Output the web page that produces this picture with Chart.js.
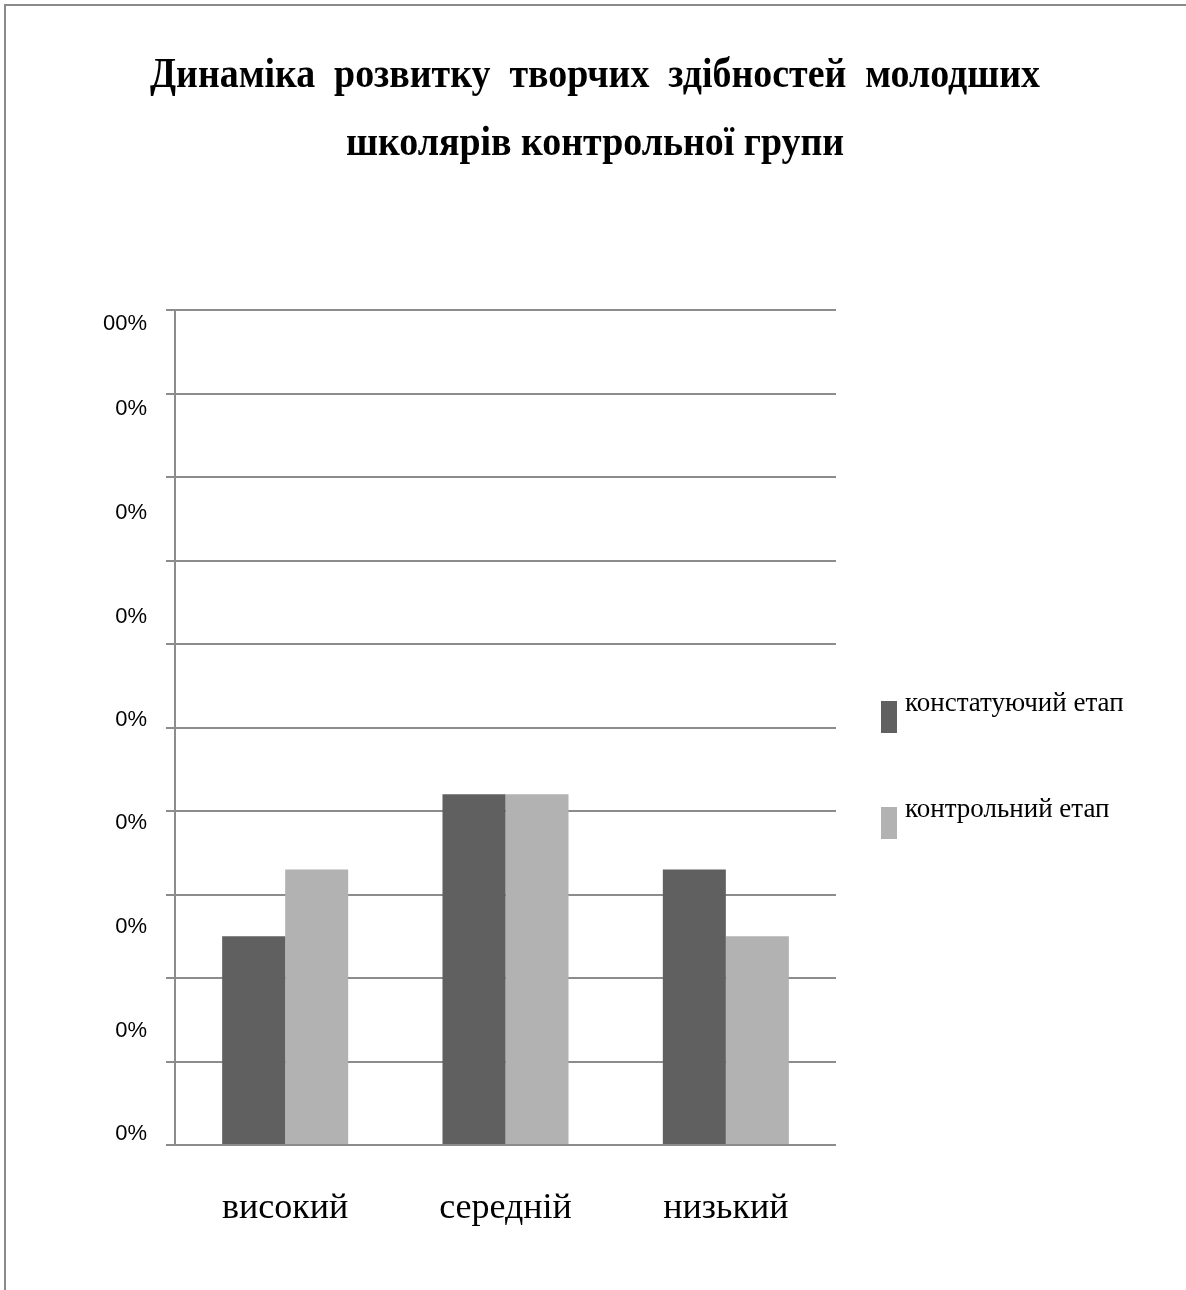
<!DOCTYPE html>
<html><head><meta charset="utf-8">
<script src="https://cdn.jsdelivr.net/npm/chart.js@4.4.1/dist/chart.umd.min.js"></script>
<style>
html,body{margin:0;padding:0;background:#fff;}
#wrap{position:relative;width:1186px;height:1290px;overflow:hidden;}
#frame{position:absolute;left:4px;top:4px;right:-10px;bottom:-10px;border-top:2px solid #8a8a8a;border-left:2px solid #8a8a8a;pointer-events:none;}
canvas{position:absolute;left:0;top:0;}
</style></head><body>
<div id="wrap"><canvas id="c" width="1186" height="1290"></canvas><div id="frame"></div></div>
<script>
const titleLines = ['Динаміка  розвитку  творчих  здібностей  молодших', 'школярів контрольної групи'];
const categories = ['високий', 'середній', 'низький'];
const seriesNames = ['констатуючий етап', 'контрольний етап'];
const constatValues = [25, 42, 33];
const controlValues = [33, 42, 25];
const gridTickValues = [0, 10, 20, 30, 40, 50, 60, 70, 80, 90, 100];
const yLabelValues = [1.3, 13.65, 26.1, 38.6, 50.9, 63.2, 75.7, 88.1, 98.3];
const yLabelTexts = ['0%', '0%', '0%', '0%', '0%', '0%', '0%', '0%', '00%'];
const seriesColors = ['#606060', '#b2b2b2'];

const GRID = '#8c8c8c';
const SERIF = '"Liberation Serif", "Times New Roman", serif';

const titlePlugin = {
  id: 'condensedTitle',
  afterDraw(chart) {
    const ctx = chart.ctx;
    ctx.save();
    ctx.font = 'bold 42px ' + SERIF;
    ctx.fillStyle = '#000';
    ctx.textAlign = 'center';
    ctx.textBaseline = 'alphabetic';
    const w0 = ctx.measureText(titleLines[0]).width;
    const sx = 890 / w0;
    const cx = 595;
    titleLines.forEach((line, i) => {
      ctx.save();
      ctx.translate(cx, 87 + i * 68);
      ctx.scale(sx, 1);
      ctx.fillText(line, 0, 0);
      ctx.restore();
    });
    ctx.restore();
  }
};

const legendPlugin = {
  id: 'sideLegend',
  afterDraw(chart) {
    const ctx = chart.ctx;
    ctx.save();
    chart.data.datasets.forEach((ds, i) => {
      const top = 701 + i * 106;
      ctx.fillStyle = ds.backgroundColor;
      ctx.fillRect(881, top, 16, 32);
      ctx.fillStyle = '#000';
      ctx.font = '27px ' + SERIF;
      ctx.textAlign = 'left';
      ctx.textBaseline = 'alphabetic';
      ctx.fillText(ds.label, 905, top + 10);
    });
    ctx.restore();
  }
};

new Chart(document.getElementById('c'), {
  type: 'bar',
  data: {
    labels: categories,
    datasets: [
      { label: seriesNames[0], data: constatValues, backgroundColor: seriesColors[0], borderWidth: 0 },
      { label: seriesNames[1], data: controlValues, backgroundColor: seriesColors[1], borderWidth: 0 }
    ]
  },
  options: {
    responsive: false,
    devicePixelRatio: 1,
    animation: false,
    categoryPercentage: 0.572,
    barPercentage: 1.0,
    layout: { padding: { left: 0, right: 350, top: 310, bottom: 0 } },
    plugins: {
      legend: { display: false },
      tooltip: { enabled: false },
      title: { display: false }
    },
    scales: {
      x: {
        grid: { display: false },
        border: { display: false },
        ticks: { color: '#000', padding: 34, font: { family: SERIF, size: 36 } },
        afterFit(s) { s.height = 145; }
      },
      y: {
        min: 0, max: 100,
        afterBuildTicks(s) {
          const vals = gridTickValues.concat(yLabelValues).sort((a, b) => a - b);
          s.ticks = vals.map(v => ({ value: v }));
        },
        afterFit(s) { s.width = 175; },
        border: { display: true, color: GRID, width: 2 },
        grid: {
          lineWidth: 2,
          tickLength: 9,
          color: c => (c.tick && gridTickValues.includes(c.tick.value)) ? GRID : 'rgba(0,0,0,0)'
        },
        ticks: {
          autoSkip: false,
          padding: 19,
          color: '#000',
          font: { family: '"Liberation Sans", Arial, sans-serif', size: 22 },
          callback: (v) => { const i = yLabelValues.indexOf(v); return i >= 0 ? yLabelTexts[i] : ''; }
        }
      }
    }
  },
  plugins: [titlePlugin, legendPlugin]
});
</script>
</body></html>
